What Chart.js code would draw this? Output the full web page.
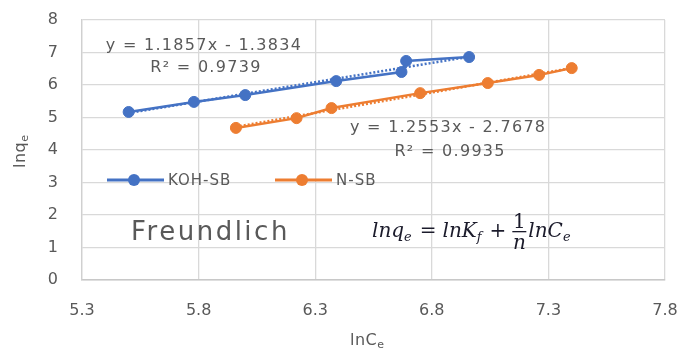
<!DOCTYPE html>
<html><head><meta charset="utf-8">
<script src="https://cdn.jsdelivr.net/npm/chart.js@4"></script>
<style>html,body{margin:0;padding:0;background:#fff}#wrap{width:681px;height:352px}</style>
</head><body><div id="wrap"><canvas id="c" width="681" height="352"></canvas></div>
<script>
const seriesNames = ['KOH-SB', 'N-SB'];
const seriesColors = ['#4472C4', '#ED7D31'];
const kohX = [5.50, 5.78, 6.00, 6.39, 6.67, 6.69, 6.96];
const kohY = [5.17, 5.48, 5.69, 6.12, 6.40, 6.74, 6.86];
const nsbX = [5.96, 6.22, 6.37, 6.75, 7.04, 7.26, 7.40];
const nsbY = [4.68, 4.98, 5.29, 5.75, 6.06, 6.31, 6.52];
const trendSlope = [1.1857, 1.2553];
const trendIntercept = [-1.3834, -2.7678];
const trendR2 = ['0.9739', '0.9935'];
const xTicks = [5.3, 5.8, 6.3, 6.8, 7.3, 7.8];
const yTicks = [0, 1, 2, 3, 4, 5, 6, 7, 8];

const GRAY = '#595959';
const FONT = '"DejaVu Sans", sans-serif';

function pts(xs, ys) { return xs.map((x, i) => ({ x: x, y: ys[i] })); }
function trend(xs, k) {
  const a = Math.min(...xs), b = Math.max(...xs);
  return [{ x: a, y: trendSlope[k] * a + trendIntercept[k] }, { x: b, y: trendSlope[k] * b + trendIntercept[k] }];
}
function eqText(k) {
  const b = trendIntercept[k];
  return 'y = ' + trendSlope[k].toFixed(4) + 'x ' + (b < 0 ? '- ' : '+ ') + Math.abs(b).toFixed(4);
}

const annot = {
  id: 'annot',
  afterDraw(chart) {
    const ctx = chart.ctx, xs = chart.scales.x, ys = chart.scales.y;
    ctx.save();
    // trendline equations
    ctx.fillStyle = GRAY;
    ctx.textAlign = 'center';
    ctx.textBaseline = 'middle';
    ctx.font = '16px ' + FONT;
    ctx.letterSpacing = '1.3px';
    const eqPos = [[5.823, 7.2, 6.52], [6.87, 4.68, 3.94]];
    for (let k = 0; k < 2; k++) {
      const px = xs.getPixelForValue(eqPos[k][0]);
      ctx.fillText(eqText(k), px, ys.getPixelForValue(eqPos[k][1]));
      ctx.fillText('R² = ' + trendR2[k], px + 2, ys.getPixelForValue(eqPos[k][2]));
    }
    // Freundlich
    ctx.font = '26px ' + FONT;
    ctx.letterSpacing = '2.5px';
    ctx.textAlign = 'left';
    ctx.fillText('Freundlich', 131, 233);
    ctx.letterSpacing = '0px';
    // legend
    ctx.font = '15px ' + FONT;
    ctx.letterSpacing = '1px';
    const legX = [107, 275];
    for (let k = 0; k < 2; k++) {
      const x0 = legX[k], y0 = 180;
      ctx.strokeStyle = seriesColors[k];
      ctx.lineWidth = 3;
      ctx.beginPath(); ctx.moveTo(x0, y0); ctx.lineTo(x0 + 57, y0); ctx.stroke();
      ctx.fillStyle = seriesColors[k];
      ctx.beginPath(); ctx.arc(x0 + 27, y0, 6, 0, Math.PI * 2); ctx.fill();
      ctx.fillStyle = GRAY;
      ctx.fillText(chart.data.datasets[k].label, x0 + 61, y0 + 1);
    }
    ctx.letterSpacing = '0px';
    // formula
    ctx.fillStyle = '#1b1b2b';
    ctx.textBaseline = 'alphabetic';
    const M = 'italic 20px "DejaVu Serif", serif', S = 'italic 13px "DejaVu Serif", serif', U = '20px "DejaVu Serif", serif';
    let x = 372; const base = 237;
    function put(t, f, dy, gap) { ctx.font = f; ctx.fillText(t, x, base + (dy || 0)); x += ctx.measureText(t).width + (gap || 0); }
    put('lnq', M, 0, 0); put('e', S, 4, 8);
    put('=', U, 0, 6); put('lnK', M, 0, 0); put('f', S, 4, 8);
    put('+', U, 0, 6);
    ctx.font = U; const fw = 14; ctx.textAlign = 'center';
    ctx.fillText('1', x + fw / 2, 228);
    ctx.font = M; ctx.fillText('n', x + fw / 2, 249);
    ctx.fillRect(x, 231, fw, 1.3);
    ctx.textAlign = 'left'; x += fw + 2;
    put('lnC', M, 0, 0); put('e', S, 4, 0);
    // axis titles
    ctx.fillStyle = GRAY;
    ctx.font = '16px ' + FONT;
    ctx.textAlign = 'left';
    ctx.letterSpacing = '0.5px';
    let w1 = ctx.measureText('lnC').width;
    ctx.fillText('lnC', 350, 345);
    ctx.font = '11px ' + FONT; ctx.fillText('e', 350 + w1, 348);
    ctx.save();
    ctx.translate(25, 168); ctx.rotate(-Math.PI / 2);
    ctx.font = '16px ' + FONT;
    w1 = ctx.measureText('lnq').width;
    ctx.fillText('lnq', 0, 0);
    ctx.font = '11px ' + FONT; ctx.fillText('e', w1, 3);
    ctx.restore();
    ctx.restore();
  }
};

new Chart(document.getElementById('c'), {
  type: 'scatter',
  data: {
    datasets: [
      { label: seriesNames[0], data: pts(kohX, kohY), showLine: true, borderColor: seriesColors[0], backgroundColor: seriesColors[0], borderWidth: 2.5, pointRadius: 5.5, pointBorderWidth: 1, pointHoverRadius: 5.5, order: 1 },
      { label: seriesNames[1], data: pts(nsbX, nsbY), showLine: true, borderColor: seriesColors[1], backgroundColor: seriesColors[1], borderWidth: 2.5, pointRadius: 5.5, pointBorderWidth: 1, pointHoverRadius: 5.5, order: 1 },
      { label: 'trend0', data: trend(kohX, 0), showLine: true, borderColor: seriesColors[0], borderWidth: 2.5, borderDash: [2, 2], pointRadius: 0, order: 2 },
      { label: 'trend1', data: trend(nsbX, 1), showLine: true, borderColor: seriesColors[1], borderWidth: 2.5, borderDash: [2, 2], pointRadius: 0, order: 2 }
    ]
  },
  options: {
    responsive: false,
    animation: false,
    devicePixelRatio: 1,
    layout: { padding: { top: 20, right: 16, left: 0, bottom: 0 } },
    plugins: { legend: { display: false }, tooltip: { enabled: false } },
    scales: {
      x: {
        type: 'linear', min: 5.3, max: 7.8,
        afterBuildTicks: s => { s.ticks = xTicks.map(v => ({ value: v })); },
        afterFit: s => { s.height = 72; s.paddingLeft = 0; s.paddingRight = 0; },
        grid: { color: '#d9d9d9', lineWidth: 1.3, drawTicks: false },
        border: { color: '#c8c8c8', width: 1.5 },
        ticks: { color: GRAY, font: { size: 16, family: FONT }, padding: 21, maxRotation: 0, callback: v => Number(v).toFixed(1) }
      },
      y: {
        min: 0, max: 8,
        afterBuildTicks: s => { s.ticks = yTicks.map(v => ({ value: v })); },
        afterFit: s => { s.width = 82; s.paddingTop = 0; s.paddingBottom = 0; },
        grid: { color: '#d9d9d9', lineWidth: 1.3, drawTicks: false },
        border: { color: '#d0d0d0', width: 1.3 },
        ticks: { color: GRAY, font: { size: 16, family: FONT }, padding: 24 }
      }
    }
  },
  plugins: [annot]
});
</script>
</body></html>
